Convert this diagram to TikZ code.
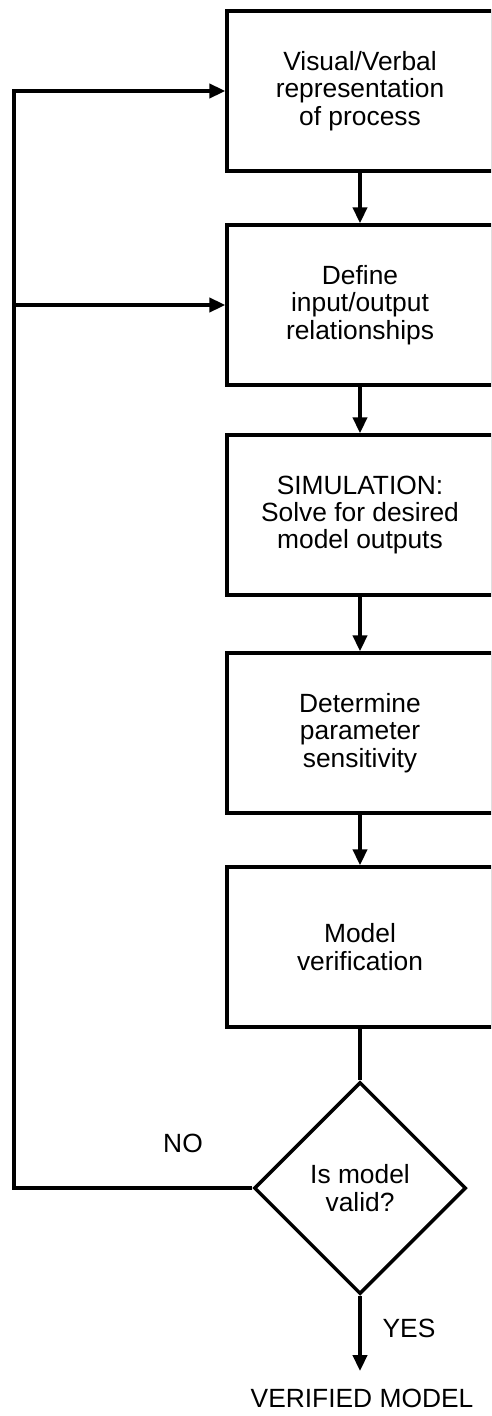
\documentclass[tikz,border=0pt]{standalone}
\usepackage{fontspec}
\setmainfont{Liberation Sans}
\usetikzlibrary{shapes.geometric,arrows.meta}
\tikzset{%
  procbox/.style={%
    rectangle,%
    draw,%
    line width=2pt,%
    align=center,%
    minimum width=5.32cm,%
    minimum height=3.2cm},
  decide/.style={%
    diamond,%
    draw,%
    line width=2pt,%
    align=center,%
    inner sep=0pt,%
    minimum size=4.24cm},
  flow/.style={%
    line width=2pt,%
    -{Triangle[length=9pt,width=8pt]}},
  plain/.style={%
    line width=2pt}
}

\begin{document}
\begin{tikzpicture}[x=0.02cm,y=-0.02cm,every
            node/.style={font=\fontsize{15}{15.5}\selectfont}]
  \useasboundingbox (0,0) rectangle (491,1416);
  \clip (0,0) rectangle (491,1416);
  % process boxes
  \node [procbox] (visual) at (360,91) {Visual/Verbal\\representation\\of process};
  \node [procbox] (define) at (360,305) {Define\\input/output\\relationships};
  \node [procbox] (sim) at (360,515) {SIMULATION:\\Solve for desired\\model outputs};
  \node [procbox] (sens) at (360,733) {Determine\\parameter\\sensitivity};
  \node [procbox] (verif) at (360,947) {Model\\verification};
  \node [decide] (valid) at (360,1188) {Is model\\valid?};
  \coordinate (loopbot) at (14,1188);
  \coordinate (done) at (360,1371);
  \node (result) at (362,1398) {VERIFIED MODEL};
  \node (no) at (183,1143) {NO};
  \node (yes) at (409,1328) {YES};
  % connectors
  \draw [flow] (visual) -- (define);
  \draw [flow] (define) -- (sim);
  \draw [flow] (sim) -- (sens);
  \draw [flow] (sens) -- (verif);
  \draw [plain] (verif) -- (valid);
  \draw [flow] (valid) -- (done);
  \draw [flow] (valid.west) -- (loopbot) |- (visual.west);
  \draw [flow] (loopbot |- define.west) -- (define.west);
\end{tikzpicture}
\end{document}
